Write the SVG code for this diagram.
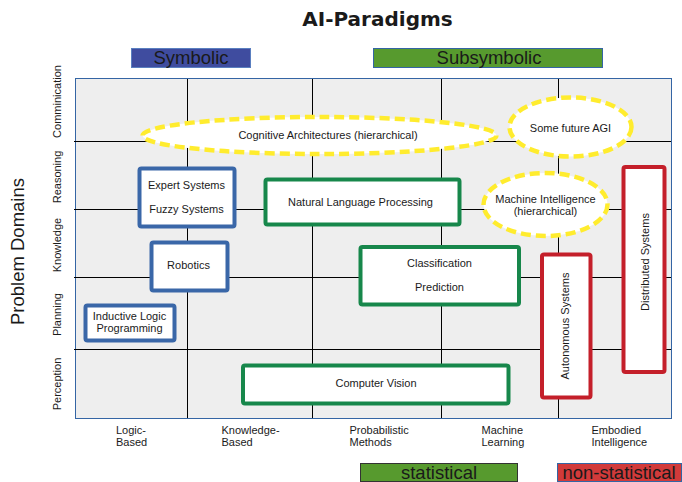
<svg xmlns="http://www.w3.org/2000/svg" width="682" height="482" viewBox="0 0 682 482">
<style>
  text { font-family: "Liberation Sans", Arial, sans-serif; fill: #1a1a1a; }
  .lbl { font-size: 11px; text-anchor: middle; }
  .axis { font-size: 11px; }
  .leg { font-size: 18.5px; text-anchor: middle; }
  .grid line { stroke: #000; stroke-width: 1; }
  .blue { fill: #fff; stroke: #3a67a8; stroke-width: 4; }
  .green { fill: #fff; stroke: #17874b; stroke-width: 4; }
  .red { fill: #fff; stroke: #c41f2a; stroke-width: 4; }
  .cloud { fill: #fff; stroke: #ffec2e; stroke-width: 4.5; stroke-dasharray: 10 5; }
</style>

<rect width="682" height="482" fill="#ffffff"/>

<text x="377.5" y="26" style="font-family: 'DejaVu Sans', sans-serif; font-weight: bold; font-size: 20px;" text-anchor="middle">AI-Paradigms</text>

<g id="legend-symbolic">
  <rect x="131.5" y="48.5" width="119" height="19" fill="#3f4c9f" stroke="#5a7fc0" stroke-width="1"/>
  <text class="leg" x="191" y="64">Symbolic</text>
</g>
<g id="legend-subsymbolic">
  <rect x="373.5" y="48.5" width="229" height="19" fill="#579a2e" stroke="#3465a4" stroke-width="1"/>
  <text class="leg" x="489" y="64">Subsymbolic</text>
</g>
<g id="legend-statistical">
  <rect x="360.5" y="463.5" width="157" height="18" fill="#579a2e" stroke="#333" stroke-width="1"/>
  <text class="leg" x="439" y="478.5">statistical</text>
</g>
<g id="legend-nonstatistical">
  <rect x="557.5" y="463.5" width="124" height="18" fill="#d23a3a" stroke="#3465a4" stroke-width="1"/>
  <text class="leg" x="619" y="478.5">non-statistical</text>
</g>

<text x="24" y="251.5" transform="rotate(-90 24 251.5)" style="font-size:18.5px" text-anchor="middle">Problem Domains</text>

<g id="row-labels" class="axis" text-anchor="middle">
  <text x="61" y="101.5" transform="rotate(-90 61 101.5)">Comminication</text>
  <text x="61" y="177" transform="rotate(-90 61 177)">Reasoning</text>
  <text x="61" y="245" transform="rotate(-90 61 245)">Knowledge</text>
  <text x="61" y="314.5" transform="rotate(-90 61 314.5)">Planning</text>
  <text x="61" y="384" transform="rotate(-90 61 384)">Perception</text>
</g>

<g id="col-labels" class="axis">
  <text x="116" y="434">Logic-</text>
  <text x="116" y="446">Based</text>
  <text x="221.5" y="434">Knowledge-</text>
  <text x="221.5" y="446">Based</text>
  <text x="349.5" y="434">Probabilistic</text>
  <text x="349.5" y="446">Methods</text>
  <text x="481.5" y="434">Machine</text>
  <text x="481.5" y="446">Learning</text>
  <text x="591.5" y="434">Embodied</text>
  <text x="591.5" y="446">Intelligence</text>
</g>

<g id="plot" class="grid">
  <rect x="75.5" y="78.5" width="596" height="340" fill="#eeeeee" stroke="#3465a4" stroke-width="1"/>
  <line x1="187.5" y1="79" x2="187.5" y2="418"/>
  <line x1="312.5" y1="79" x2="312.5" y2="418"/>
  <line x1="441.5" y1="79" x2="441.5" y2="418"/>
  <line x1="558.5" y1="79" x2="558.5" y2="418"/>
  <line x1="74" y1="141.5" x2="671" y2="141.5"/>
  <line x1="74" y1="209.5" x2="671" y2="209.5"/>
  <line x1="74" y1="277.5" x2="671" y2="277.5"/>
  <line x1="74" y1="349.5" x2="671" y2="349.5"/>
</g>

<g id="cognitive-architectures">
  <ellipse class="cloud" cx="319.5" cy="135.5" rx="177" ry="18.5"/>
  <text class="lbl" x="328" y="138.5">Cognitive Architectures (hierarchical)</text>
</g>

<g id="some-future-agi">
  <ellipse class="cloud" cx="570.5" cy="127" rx="61" ry="29.5"/>
  <text class="lbl" x="570.5" y="131.5">Some future AGI</text>
</g>

<g id="machine-intelligence">
  <ellipse class="cloud" cx="545.5" cy="204.5" rx="62" ry="31.5"/>
  <text class="lbl" x="545.5" y="203">Machine Intelligence</text>
  <text class="lbl" x="545.5" y="214.5">(hierarchical)</text>
</g>

<g id="expert-systems">
  <rect class="blue" x="139.5" y="168.5" width="95" height="58" rx="2"/>
  <text class="lbl" x="186.5" y="188.5">Expert Systems</text>
  <text class="lbl" x="186.5" y="212.5">Fuzzy Systems</text>
</g>

<g id="nlp">
  <rect class="green" x="265.5" y="179.5" width="194" height="45" rx="2"/>
  <text class="lbl" x="360.5" y="205.5">Natural Language Processing</text>
</g>

<g id="robotics">
  <rect class="blue" x="151.5" y="242.5" width="76" height="48" rx="2"/>
  <text class="lbl" x="188.5" y="268.5">Robotics</text>
</g>

<g id="ilp">
  <rect class="blue" x="85.5" y="305.5" width="89" height="35" rx="2"/>
  <text class="lbl" x="129.5" y="320">Inductive Logic</text>
  <text class="lbl" x="129.5" y="331.5">Programming</text>
</g>

<g id="classification">
  <rect class="green" x="360.5" y="247" width="158.5" height="57.5" rx="2"/>
  <text class="lbl" x="439.5" y="267">Classification</text>
  <text class="lbl" x="439.5" y="291">Prediction</text>
</g>

<g id="computer-vision">
  <rect class="green" x="243" y="365.5" width="265.5" height="38" rx="2"/>
  <text class="lbl" x="376" y="387">Computer Vision</text>
</g>

<g id="autonomous-systems">
  <rect class="red" x="542" y="254.5" width="48.5" height="143" rx="2"/>
  <text class="lbl" x="569" y="326" transform="rotate(-90 569 326)">Autonomous Systems</text>
</g>

<g id="distributed-systems">
  <rect class="red" x="623.5" y="167" width="41" height="205" rx="2"/>
  <text class="lbl" x="648.5" y="262" transform="rotate(-90 648.5 262)">Distributed Systems</text>
</g>
</svg>
